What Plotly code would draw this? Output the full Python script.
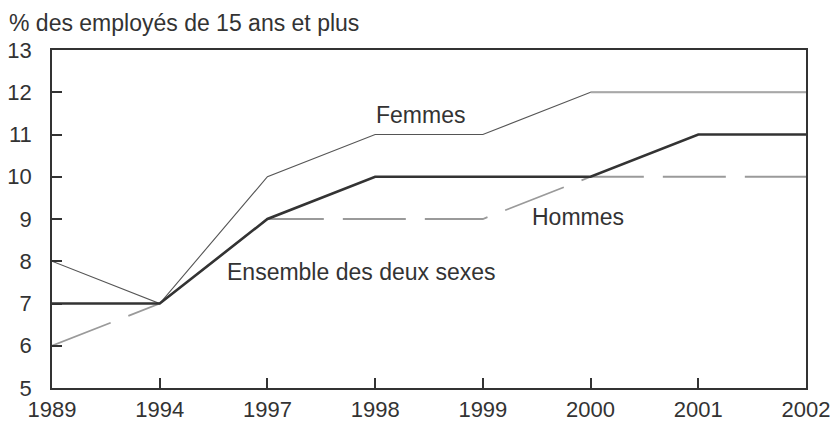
import plotly.graph_objects as go

years = ["1989", "1994", "1997", "1998", "1999", "2000", "2001", "2002"]
femmes = [8, 7, 10, 11, 11, 12, 12, 12]
hommes = [6, 7, 9, 9, 9, 10, 10, 10]
ensemble = [7, 7, 9, 10, 10, 10, 11, 11]
y_ticks = [5, 6, 7, 8, 9, 10, 11, 12, 13]

FONT = "Liberation Sans, Arial, sans-serif"

fig = go.Figure()
fig.add_trace(go.Scatter(x=years, y=hommes, mode="lines",
                         line=dict(color="#9a9a9a", width=1.8, dash="63px,19px"),
                         name="Hommes", hoverinfo="skip"))
fig.add_trace(go.Scatter(x=years, y=femmes, mode="lines",
                         line=dict(color="#555555", width=1.1),
                         name="Femmes", hoverinfo="skip"))
fig.add_trace(go.Scatter(x=years[5:], y=femmes[5:], mode="lines",
                         line=dict(color="#a8a8a8", width=2.2),
                         showlegend=False, hoverinfo="skip"))
fig.add_trace(go.Scatter(x=years, y=ensemble, mode="lines",
                         line=dict(color="#333333", width=2.6),
                         name="Ensemble des deux sexes", hoverinfo="skip"))

annot_font = dict(family=FONT, size=23, color="#333333")
fig.add_annotation(x=3.42, y=11.46, text="Femmes", showarrow=False, font=annot_font)
fig.add_annotation(x=4.88, y=9.05, text="Hommes", showarrow=False, font=annot_font)
fig.add_annotation(x=2.87, y=7.75, text="Ensemble des deux sexes", showarrow=False, font=annot_font)
fig.add_annotation(xref="paper", yref="paper", x=-0.058, y=1.0, yshift=41,
                   xanchor="left", yanchor="top", borderpad=0,
                   text="% des employés de 15 ans et plus", showarrow=False,
                   font=dict(family=FONT, size=23, color="#333333"))

# page body has an 8px margin: shrink the figure and shift margins accordingly
fig.update_layout(
    width=830, height=414,
    margin=dict(l=44, r=32, t=42, b=34),
    paper_bgcolor="white", plot_bgcolor="white",
    showlegend=False,
    font=dict(family=FONT, size=22, color="#333333"),
)
fig.update_xaxes(type="category", range=[0, 7], showgrid=False, zeroline=False,
                 automargin=False,
                 showline=True, mirror=True, linecolor="#333333", linewidth=1.5,
                 ticks="inside", ticklen=10, tickwidth=1.5, tickcolor="#333333",
                 ticklabelstandoff=1,
                 tickfont=dict(family=FONT, size=22, color="#333333"))
fig.update_yaxes(range=[5, 13], tickvals=y_ticks, showgrid=False, zeroline=False,
                 automargin=False,
                 showline=True, mirror=True, linecolor="#333333", linewidth=1.5,
                 ticks="inside", ticklen=10, tickwidth=1.5, tickcolor="#333333",
                 ticklabelstandoff=14,
                 tickfont=dict(family=FONT, size=22, color="#333333"))

fig.write_html("out.html")
